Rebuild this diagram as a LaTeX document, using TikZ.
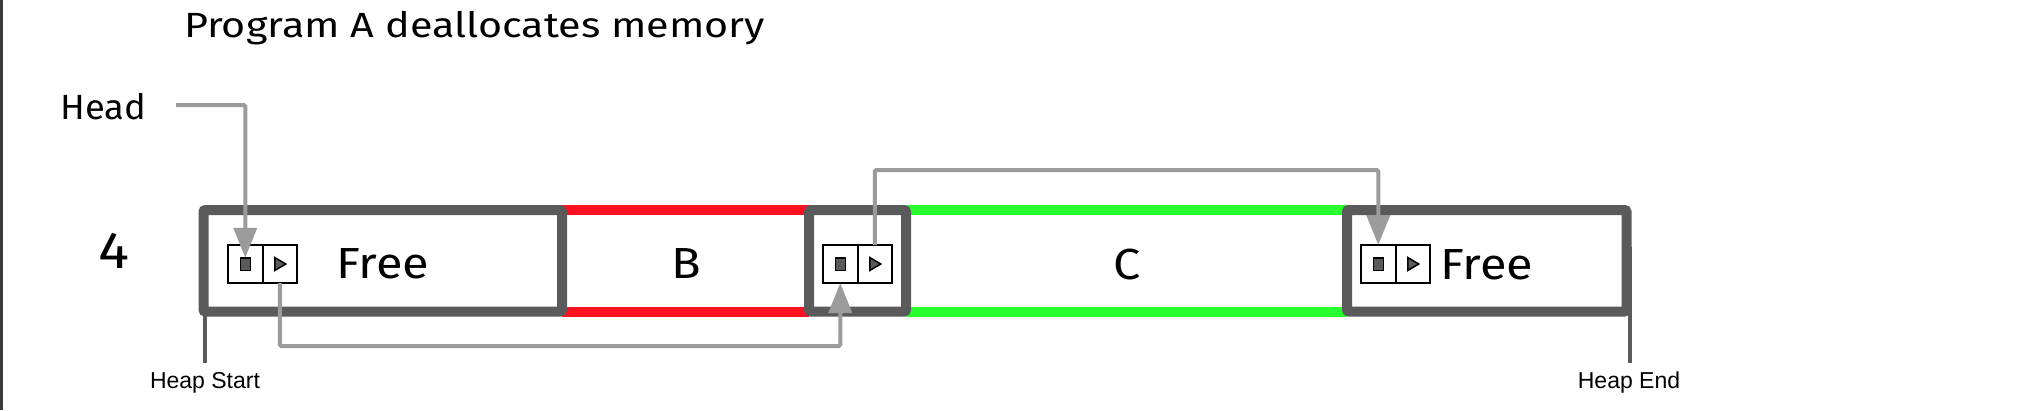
\documentclass[tikz,border=0pt]{standalone}
\usepackage{fontspec}
\setmainfont{Fira Sans}
\newfontfamily\titlefont{Fira Sans}[FakeStretch=1.18]
\newfontfamily\headfont{Fira Sans}[FakeStretch=1.04]
\newfontfamily\blockfont{Fira Sans}[FakeStretch=1.12]
\newfontfamily\arialfont{Liberation Sans}
\usetikzlibrary{arrows.meta}
\pgfdeclarelayer{bg}
\pgfsetlayers{bg,main}
\definecolor{boxgray}{HTML}{5A5A5A}
\definecolor{arrgray}{HTML}{9B9B9B}
\definecolor{redseg}{HTML}{FF1020}
\definecolor{greenseg}{HTML}{28FF2E}
\definecolor{framegray}{HTML}{3A3A3A}
\begin{document}
\begin{tikzpicture}[x=1pt,y=-1pt,
  blk/.style={draw=boxgray, line width=10pt, rounded corners=2pt, minimum width=#1, minimum height=101.5pt, inner sep=0pt, outer sep=0pt},
  seg/.style={line width=10pt, draw=#1},
  cell/.style={draw=black, line width=2pt, minimum width=34.5pt, minimum height=38pt, inner sep=0pt, outer sep=0pt},
  sq/.style={draw=black, fill=boxgray, line width=1.5pt, minimum width=10pt, minimum height=12.5pt, inner sep=0pt, outer sep=0pt},
  tri/.style={draw=black, fill=boxgray, line width=1.5pt, line join=miter},
  ptr/.style={draw=arrgray, line width=4pt, rounded corners=1.5pt, -{Triangle[length=30pt,width=23pt]}},
  heapline/.style={draw=boxgray, line width=4pt},
  txt/.style={inner sep=0pt, outer sep=0pt, anchor=base},
  blocktext/.style={txt, font=\blockfont\fontsize{43.5}{48}\selectfont},
  small/.style={txt, font=\arialfont\fontsize{23}{26}\selectfont}
]
\useasboundingbox (0,0) rectangle (2042,410);
\draw[framegray, line width=2.7pt] (1.35,0) -- (1.35,410);

% texts
\node[txt, font=\titlefont\fontsize{35}{40}\selectfont] (title) at (474.5,37) {Program A deallocates memory};
\node[txt, font=\headfont\fontsize{35}{40}\selectfont] (head) at (103.4,119) {Head};
\node[txt, font=\blockfont\fontsize{52}{56}\selectfont] (four) at (114,268) {4};

% blocks
\node[blk=358.5pt] (free1) at (382.75,260.75) {};
\node[blk=97pt] (used) at (857.5,260.75) {};
\node[blk=279.5pt] (free2) at (1486.75,260.75) {};

\node[blocktext] (free1t) at (383,278) {Free};
\node[blocktext] (bt) at (686,278) {B};
\node[blocktext] (ct) at (1127,279) {C};
\node[blocktext] (free2t) at (1487,279) {Free};

\begin{pgfonlayer}{bg}
  \draw[seg=redseg] (free1.north east) -- (used.north west);
  \draw[seg=redseg] (free1.south east) -- (used.south west);
  \draw[seg=greenseg] (used.north east) -- (free2.north west);
  \draw[seg=greenseg] (used.south east) -- (free2.south west);
\end{pgfonlayer}

% pointer cells
\node[cell] (c1a) at (245.25,264) {};
\node[cell] (c1b) at (279.75,264) {};
\node[cell] (c2a) at (840.25,264) {};
\node[cell] (c2b) at (874.75,264) {};
\node[cell] (c3a) at (1378.25,264) {};
\node[cell] (c3b) at (1412.75,264) {};

\node[sq] (s1) at (c1a.center) {};
\node[sq] (s2) at (c2a.center) {};
\node[sq] (s3) at (c3a.center) {};
\foreach \c in {c1b,c2b,c3b}{
  \draw[tri] ([shift={(-5,-6.5)}]\c.center) -- ++(11,6.5) -- ++(-11,6.5) -- cycle;
}

% heap markers
\coordinate (hsend) at (205,363);
\coordinate (heend) at (1629.5,363);
\coordinate (hetop) at (1629.5,247);
\draw[heapline] (free1.south west -| hsend) -- (hsend);
\draw[heapline] (hetop) -- (heend);
\node[small] (hstart) at (205,388) {Heap Start};
\node[small] (hend) at (1629,388) {Heap End};

% pointers
\coordinate (hsrc) at (176,105);
\coordinate (lowy) at (0,346);
\coordinate (highy) at (0,170);
\draw[ptr] (hsrc) -| (s1.north);
\draw[ptr] (c1b.south) -- (c1b.south |- lowy) -| (c2a.south);
\draw[ptr] (c2b.north) -- (c2b.north |- highy) -| (c3a.north);
\end{tikzpicture}
\end{document}
